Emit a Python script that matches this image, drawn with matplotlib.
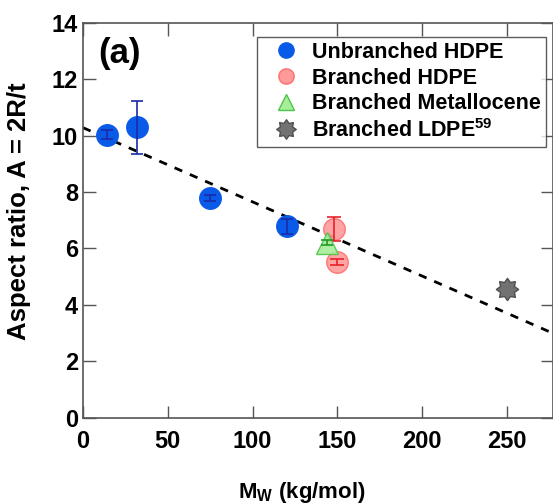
import numpy as np
import matplotlib.pyplot as plt
from matplotlib.lines import Line2D
from matplotlib.path import Path

plt.rcParams.update(
    {
        "font.family": "Liberation Sans",
        "font.weight": "bold",
        "axes.labelweight": "bold",
        "mathtext.fontset": "custom",
        "mathtext.rm": "Liberation Sans:bold",
        "mathtext.bf": "Liberation Sans:bold",
        "mathtext.default": "rm",
    }
)

# Unbranched HDPE
unb_mw = [14, 32, 75, 120]
unb_ar = [10.03, 10.29, 7.79, 6.78]
unb_err = [0.15, 0.95, 0.12, 0.25]

# Branched HDPE
br_mw = [148, 150]
br_ar = [6.70, 5.52]
br_err = [0.42, 0.10]

# Branched metallocene
met_mw = [144]
met_ar = [6.21]
met_err = [0.10]

# Branched LDPE (ref. 59)
ldpe_mw = [250]
ldpe_ar = [4.57]

# linear trend
fit_intercept = 10.28
fit_slope = -0.0263

# blunt 8-point star marker
ang = np.pi / 2 + np.arange(16) * np.pi / 8
rad = np.where(np.arange(16) % 2 == 0, 1.0, 0.68)
star_verts = np.column_stack([rad * np.cos(ang), rad * np.sin(ang)])
star = Path(np.vstack([star_verts, star_verts[:1]]), closed=True)

fig = plt.figure(figsize=(5.53, 5.04), dpi=100)
ax = fig.add_axes([0.150, 0.171, 0.850, 0.784])

xmax = 277
x_fit = np.array([0, xmax])
ax.plot(x_fit, fit_intercept + fit_slope * x_fit, ls=(0, (3, 3)), color="black",
        lw=2.0, zorder=1)

ms = 15.5
# markers first, error bars drawn on top of them
ax.plot(unb_mw, unb_ar, ls="none", marker="o", ms=ms, mfc="#0a5ae8",
        mec="#0a5ae8", zorder=3)
ax.errorbar(unb_mw, unb_ar, yerr=unb_err, fmt="none", ecolor="#1a2aa8",
            elinewidth=1.2, capsize=4, capthick=1.2, zorder=4)
ax.plot(br_mw, br_ar, ls="none", marker="o", ms=ms, mfc="#ff9a9a",
        mec="#ff6e6e", alpha=0.9, zorder=3)
ax.errorbar(br_mw, br_ar, yerr=br_err, fmt="none", ecolor="#e8202a",
            elinewidth=1.2, capsize=5, capthick=1.2, zorder=4)
ax.plot(met_mw, met_ar, ls="none", marker="^", ms=ms, mfc="#a6ee9a",
        mec="#4fc44a", alpha=0.9, zorder=5)
ax.errorbar(met_mw, met_ar, yerr=met_err, fmt="none", ecolor="#1f9a2a",
            elinewidth=1.2, capsize=4, capthick=1.2, zorder=6)
ax.plot(ldpe_mw, ldpe_ar, ls="none", marker=star, ms=16, mfc="#727272",
        mec="#505050", mew=1.0, zorder=3)

ax.set_xlim(0, xmax)
ax.set_ylim(0, 14)
ax.set_xticks([0, 50, 100, 150, 200, 250])
ax.set_yticks([0, 2, 4, 6, 8, 10, 12, 14])

for side in ax.spines.values():
    side.set_color("#555555")
    side.set_linewidth(1.2)
ax.tick_params(direction="in", length=9, width=1.0, color="#555555",
               top=True, right=True, labelsize=17)
ax.tick_params(axis="x", pad=8.5)
ax.tick_params(axis="y", pad=3.5)

ax.set_ylabel("Aspect ratio, A = 2R/t", fontsize=18.5)
ax.yaxis.set_label_coords(-0.11, 0.524)
ax.set_xlabel("M$_{W}$ (kg/mol)", fontsize=16)
ax.xaxis.set_label_coords(0.465, -0.158)

ax.text(0.032, 0.965, "(a)", transform=ax.transAxes, fontsize=25,
        fontweight="bold", ha="left", va="top")

handles = [
    Line2D([], [], ls="none", marker="o", ms=11, mfc="#0a5ae8", mec="#0a5ae8"),
    Line2D([], [], ls="none", marker="o", ms=11, mfc="#ff9a9a", mec="#ff6e6e"),
    Line2D([], [], ls="none", marker="^", ms=11, mfc="#a6ee9a", mec="#4fc44a"),
    Line2D([], [], ls="none", marker=star, ms=14, mfc="#727272", mec="#505050"),
]
labels = ["Unbranched HDPE", "Branched HDPE", "Branched Metallocene",
          "Branched LDPE$^{59}$"]
leg = ax.legend(handles, labels, loc="upper right", bbox_to_anchor=(0.985, 0.965),
                fontsize=15.5, frameon=True, fancybox=False, edgecolor="#333333",
                handletextpad=0.1, borderpad=0.25, labelspacing=0.22,
                handlelength=2.2, borderaxespad=0)
leg.get_frame().set_linewidth(1.0)

fig.savefig("out.png", dpi=100)
